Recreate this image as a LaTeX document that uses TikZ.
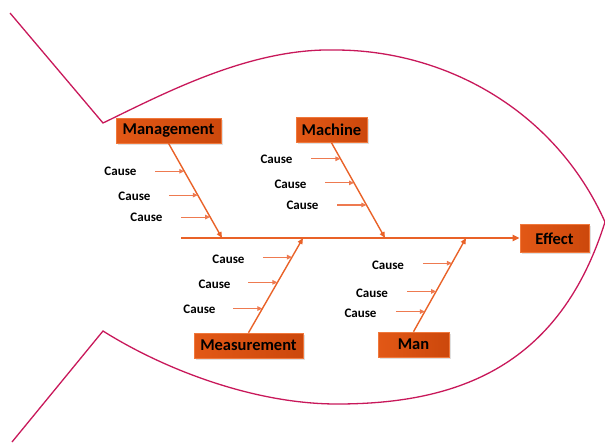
\documentclass[tikz,border=0pt]{standalone}
\usepackage{fontspec}
\setmainfont{Carlito}
\usetikzlibrary{arrows.meta,calc,shadows}

\definecolor{fishline}{RGB}{200,24,90}
\definecolor{bone}{RGB}{233,98,40}
\definecolor{causearrow}{RGB}{238,122,80}
\definecolor{boxleft}{RGB}{226,88,22}
\definecolor{boxright}{RGB}{204,72,12}
\definecolor{boxedge}{RGB}{240,120,60}

\tikzset{
  catbox/.style={draw=boxedge, line width=0.6pt, left color=boxleft, right color=boxright,
    drop shadow={shadow xshift=1.5pt, shadow yshift=-1.5pt, fill=black!25},
    font=\bfseries\fontsize{16.5}{18}\selectfont, text=black,
    minimum height=25pt, inner xsep=5.5pt, inner ysep=0pt},
  causetext/.style={font=\bfseries\fontsize{13}{15}\selectfont, text=black, inner sep=0pt},
  bonearrow/.style={draw=bone, line width=1.4pt, -{Triangle[length=6pt,width=5pt]}},
  spinearrow/.style={draw=bone, line width=1.8pt, -{Triangle[length=7pt,width=6pt]}},
  causeline/.style={draw=causearrow, line width=1.1pt, -{Triangle[length=5pt,width=4.5pt]}},
  outline/.style={draw=fishline, line width=1.3pt, line join=miter}
}

\begin{document}
\begin{tikzpicture}[x=1pt, y=-1pt]
  \useasboundingbox (0,0) rectangle (605,442);

  % fish body and tail
  \draw[outline] (10,13) -- (103,123)
     .. controls (165,93) and (250,48) .. (335,50)
     .. controls (445,50) and (555,110) .. (605,222)
     .. controls (560,365) and (460,404) .. (337,404)
     .. controls (255,404) and (165,370) .. (103,331)
     -- (12,442);

  % category boxes and effect
  \node[catbox, minimum width=105pt] (mgmt) at (168.5,130.5) {Management};
  \node[catbox, minimum width=71pt]  (mach) at (331.5,130)   {Machine};
  \node[catbox, minimum width=109pt] (meas) at (248.5,345.5) {Measurement};
  \node[catbox, minimum width=71pt]  (man)  at (413.5,344.5) {Man};
  \node[catbox, minimum width=69pt, minimum height=28pt] (effect) at (554.5,238.5) {Effect};

  % spine
  \coordinate (spine0) at (181,238);
  \draw[spinearrow] (spine0) -- (spine0 -| effect.west);

  % where each bone meets the spine
  \coordinate (mgmtE) at (222,238);
  \coordinate (machE) at (385,238);
  \coordinate (measE) at (303,238);
  \coordinate (manE)  at (466,238);

  \draw[bonearrow] (mgmt.south) -- (mgmtE);
  \draw[bonearrow] (mach.south) -- (machE);
  \draw[bonearrow] (meas.north) -- (measE);
  \draw[bonearrow] (man.north)  -- (manE);

  % cause arrows: tips on the bones
  \coordinate (mgmt1) at ($(mgmt.south)!0.295!(mgmtE)$);
  \coordinate (mgmt2) at ($(mgmt.south)!0.547!(mgmtE)$);
  \coordinate (mgmt3) at ($(mgmt.south)!0.779!(mgmtE)$);
  \coordinate (mach1) at ($(mach.south)!0.168!(machE)$);
  \coordinate (mach2) at ($(mach.south)!0.421!(machE)$);
  \coordinate (mach3) at ($(mach.south)!0.653!(machE)$);
  \coordinate (meas1) at ($(meas.north)!0.798!(measE)$);
  \coordinate (meas2) at ($(meas.north)!0.532!(measE)$);
  \coordinate (meas3) at ($(meas.north)!0.255!(measE)$);
  \coordinate (man1)  at ($(man.north)!0.731!(manE)$);
  \coordinate (man2)  at ($(man.north)!0.430!(manE)$);
  \coordinate (man3)  at ($(man.north)!0.215!(manE)$);

  \foreach \c in {mgmt1,mgmt2,mgmt3,mach1,mach2,mach3,meas1,meas2,meas3,man1,man2,man3}{
    \coordinate (\c s) at ($(\c)+(-29,0)$);
    \draw[causeline] (\c s) -- (\c);
  }

  % cause labels
  \node[causetext] (tmgmt1) at (120.5,171) {Cause};
  \node[causetext] (tmgmt2) at (134.5,196) {Cause};
  \node[causetext] (tmgmt3) at (146.5,217) {Cause};
  \node[causetext] (tmach1) at (276.5,159) {Cause};
  \node[causetext] (tmach2) at (290.5,184) {Cause};
  \node[causetext] (tmach3) at (302.5,205) {Cause};
  \node[causetext] (tmeas1) at (228.5,259) {Cause};
  \node[causetext] (tmeas2) at (214.5,284) {Cause};
  \node[causetext] (tmeas3) at (199.5,309) {Cause};
  \node[causetext] (tman1)  at (388,265)   {Cause};
  \node[causetext] (tman2)  at (372,293)   {Cause};
  \node[causetext] (tman3)  at (360.5,313) {Cause};
\end{tikzpicture}
\end{document}
